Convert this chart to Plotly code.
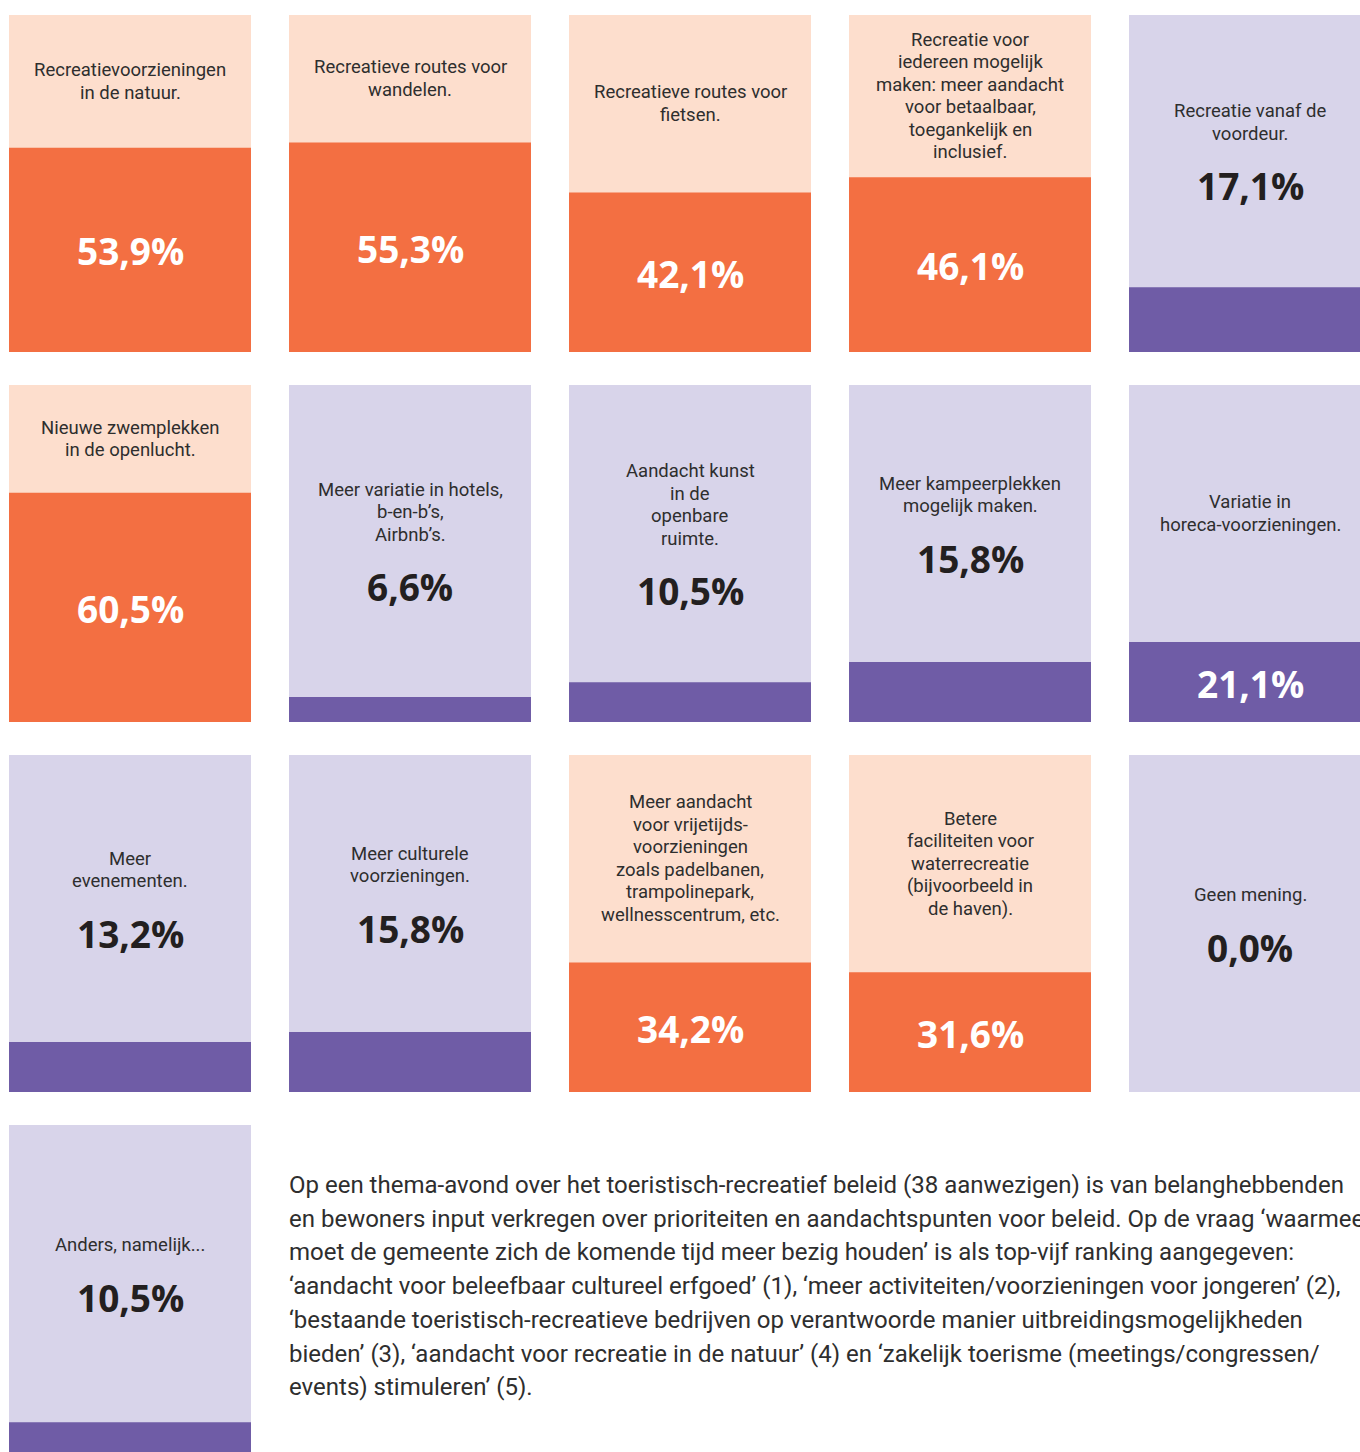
import plotly.graph_objects as go

# ---------------- data ----------------
categories = [
    "Recreatievoorzieningen<br>in de natuur.",
    "Recreatieve routes voor<br>wandelen.",
    "Recreatieve routes voor<br>fietsen.",
    "Recreatie voor<br>iedereen mogelijk<br>maken: meer aandacht<br>voor betaalbaar,<br>toegankelijk en<br>inclusief.",
    "Recreatie vanaf de<br>voordeur.",
    "Nieuwe zwemplekken<br>in de openlucht.",
    "Meer variatie in hotels,<br>b-en-b’s,<br>Airbnb’s.",
    "Aandacht kunst<br>in de<br>openbare<br>ruimte.",
    "Meer kampeerplekken<br>mogelijk maken.",
    "Variatie in<br>horeca-voorzieningen.",
    "Meer<br>evenementen.",
    "Meer culturele<br>voorzieningen.",
    "Meer aandacht<br>voor vrijetijds-<br>voorzieningen<br>zoals padelbanen,<br>trampolinepark,<br>wellnesscentrum, etc.",
    "Betere<br>faciliteiten voor<br>waterrecreatie<br>(bijvoorbeeld in<br>de haven).",
    "Geen mening.",
    "Anders, namelijk...",
]
values = [53.9, 55.3, 42.1, 46.1, 17.1, 60.5, 6.6, 10.5, 15.8, 21.1,
          13.2, 15.8, 34.2, 31.6, 0.0, 10.5]

paragraph_lines = [
    "Op een thema-avond over het toeristisch-recreatief beleid (38 aanwezigen) is van belanghebbenden",
    "en bewoners input verkregen over prioriteiten en aandachtspunten voor beleid. Op de vraag ‘waarmee",
    "moet de gemeente zich de komende tijd meer bezig houden’ is als top-vijf ranking aangegeven:",
    "‘aandacht voor beleefbaar cultureel erfgoed’ (1), ‘meer activiteiten/voorzieningen voor jongeren’ (2),",
    "‘bestaande toeristisch-recreatieve bedrijven op verantwoorde manier uitbreidingsmogelijkheden",
    "bieden’ (3), ‘aandacht voor recreatie in de natuur’ (4) en ‘zakelijk toerisme (meetings/congressen/",
    "events) stimuleren’ (5).",
]

# ---------------- styling / layout ----------------
W, H = 1360, 1452
PX_PER_UNIT = 3.79          # pixels per percentage point
NCOLS = 5
COL_PITCH = 280
CARD_W_PX = 242
FIRST_CENTER_PX = 130
ROW_BOTTOM0_PX = 352
ROW_PITCH_PX = 370
CARD_H_PX = 337

ORANGE, PEACH = "#F36F42", "#FDDECD"
PURPLE, LAVENDER = "#6F5CA6", "#D8D4EA"
TXT = "#2E2E2E"
DARK = "#231F20"
HIGH_THRESHOLD = 30
INSIDE_THRESHOLD = 20
LINE_PX = 22.5
CAT_FONT = 18.5
LAB_FONT = 37


def ypx(px):
    return (H - px) / PX_PER_UNIT


n = len(values)
cols = [i % NCOLS for i in range(n)]
rows = [i // NCOLS for i in range(n)]
bottoms_px = [ROW_BOTTOM0_PX + ROW_PITCH_PX * r for r in rows]
bases = [ypx(b) for b in bottoms_px]
card_h = CARD_H_PX / PX_PER_UNIT
bar_w = CARD_W_PX / COL_PITCH

high = [v >= HIGH_THRESHOLD for v in values]
light_cols = [PEACH if h else LAVENDER for h in high]
fill_cols = [ORANGE if h else PURPLE for h in high]

fig = go.Figure()
fig.add_trace(go.Bar(x=cols, y=[card_h] * n, base=bases, width=bar_w,
                     marker=dict(color=light_cols, line=dict(width=0)),
                     hoverinfo="skip"))
fig.add_trace(go.Bar(x=cols, y=values, base=bases, width=bar_w,
                     marker=dict(color=fill_cols, line=dict(width=0)),
                     hoverinfo="skip"))

ann = []
for i in range(n):
    v = values[i]
    label = f"{v:.1f}".replace(".", ",") + "%"
    lines = categories[i].split("<br>")
    nlines = len(lines)
    bottom = bottoms_px[i]
    top = bottom - CARD_H_PX
    fill_top = bottom - v * PX_PER_UNIT
    light_center = (top + fill_top) / 2
    if v >= INSIDE_THRESHOLD:
        first_line = light_center - LINE_PX * (nlines - 1) / 2
        lab_center = (fill_top + bottom) / 2 + 1
        lab_color = "white"
    else:
        grp_h = LINE_PX * (nlines - 1) + 79
        first_line = light_center - grp_h / 2 + 11
        last_line = first_line + LINE_PX * (nlines - 1)
        lab_center = last_line + 52
        lab_color = DARK
    for k, ln in enumerate(lines):
        ann.append(dict(x=cols[i], y=ypx(first_line + k * LINE_PX), xref="x", yref="y",
                        text=ln, showarrow=False, align="center",
                        xanchor="center", yanchor="middle",
                        font=dict(family="Roboto", size=CAT_FONT, color=TXT)))
    ann.append(dict(x=cols[i], y=ypx(lab_center), xref="x", yref="y",
                    text=f"<b>{label}</b>", showarrow=False,
                    xanchor="center", yanchor="middle",
                    font=dict(family="Open Sans", size=LAB_FONT, color=lab_color)))

para_x = 1 - bar_w / 2
PARA_Y0 = 1185
PARA_LINE = 33.7
for k, line in enumerate(paragraph_lines):
    ann.append(dict(x=para_x, y=ypx(PARA_Y0 + k * PARA_LINE), xref="x", yref="y",
                    text=line, showarrow=False, xanchor="left", yanchor="middle",
                    align="left", xshift=-2,
                    font=dict(family="Roboto", size=24, color=TXT)))

fig.update_layout(
    width=W, height=H, margin=dict(l=0, r=0, t=0, b=0),
    paper_bgcolor="white", plot_bgcolor="white",
    barmode="overlay", showlegend=False, annotations=ann,
    xaxis=dict(range=[(0 - FIRST_CENTER_PX) / COL_PITCH,
                      (W - FIRST_CENTER_PX) / COL_PITCH],
               visible=False, fixedrange=True),
    yaxis=dict(range=[0, H / PX_PER_UNIT], visible=False, fixedrange=True),
)

fig.write_html("out.html", config={"displayModeBar": False})
